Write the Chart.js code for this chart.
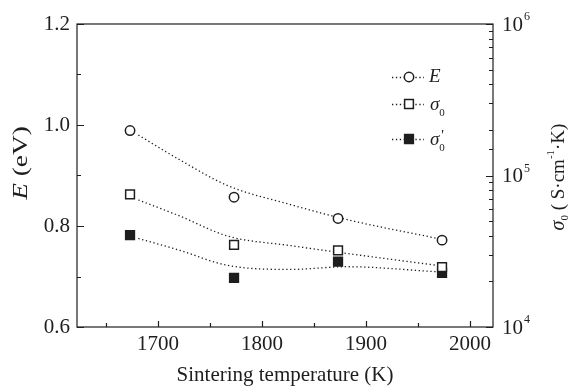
<!DOCTYPE html>
<html>
<head>
<meta charset="utf-8">
<script src="https://cdn.jsdelivr.net/npm/chart.js@4.4.0/dist/chart.umd.min.js"></script>
<style>
  html, body { margin: 0; padding: 0; background: #fff; }
  #grafico { display: block; }
</style>
</head>
<body>
<canvas id="grafico" width="568" height="386"></canvas>
<script>
// Temperaturas de sinterizado (K)
const temperaturas = [1673, 1773, 1873, 1973];
// Energía de activación E (eV)
const energia = [0.989, 0.857, 0.815, 0.772];
// σ0 y σ0' (S·cm-1·K)
const sigma0 = [75100, 34800, 32000, 24800];
const sigma0Prima = [40400, 21100, 27000, 22800];

// Curvas de ajuste punteadas
const ajusteT = [1681, 1720, 1767, 1828, 1881, 1967];
const ajusteEnergia = [0.980, 0.932, 0.880, 0.842, 0.813, 0.776];
const ajusteSigma0 = [68900, 54300, 39800, 34400, 30600, 25600];
const ajusteSigma0Prima = [38400, 32200, 25500, 24000, 25000, 23200];

// Ticks
const ticksX = [1650, 1700, 1750, 1800, 1850, 1900, 1950, 2000];
const etiquetasX = [1700, 1800, 1900, 2000];
const ticksE = [0.6, 0.7, 0.8, 0.9, 1.0, 1.1, 1.2];
const etiquetasE = [0.6, 0.8, 1.0, 1.2];
const exponentesSigma = [4, 5, 6];

const SERIF = "'Liberation Serif', 'Times New Roman', serif";
const TINTA = "#1e1e1e";

const puntos = (xs, ys) => xs.map((x, i) => ({ x: x, y: ys[i] }));

// Dibuja texto compuesto por partes (cursiva, subíndice, superíndice)
function textoCompuesto(ctx, partes, x, y) {
  let ancho = 0;
  partes.forEach((p) => {
    ctx.font = `${p.italic ? "italic " : ""}${p.size}px ${SERIF}`;
    p.w = ctx.measureText(p.t).width + (p.extra || 0);
    ancho += p.w;
  });
  let cx = x - ancho / 2;
  partes.forEach((p) => {
    ctx.font = `${p.italic ? "italic " : ""}${p.size}px ${SERIF}`;
    ctx.fillText(p.t, cx, y + (p.dy || 0));
    cx += p.w;
  });
}

const pluginEjes = {
  id: "pluginEjes",
  afterDraw(chart) {
    const ctx = chart.ctx;
    const area = chart.chartArea;
    const sx = chart.scales.x;
    const sy = chart.scales.y;
    const sy2 = chart.scales.y2;
    ctx.save();
    ctx.strokeStyle = TINTA;
    ctx.fillStyle = TINTA;
    ctx.lineWidth = 1.2;

    // Marco
    ctx.strokeRect(area.left, area.top, area.right - area.left, area.bottom - area.top);

    // Ticks hacia adentro
    ctx.beginPath();
    ticksX.forEach((v) => {
      const px = Math.round(sx.getPixelForValue(v)) + 0.5;
      const largo = etiquetasX.includes(v) ? 6 : 4;
      ctx.moveTo(px, area.bottom);
      ctx.lineTo(px, area.bottom - largo);
    });
    ticksE.forEach((v) => {
      const py = Math.round(sy.getPixelForValue(v)) + 0.5;
      const largo = etiquetasE.some((e) => Math.abs(e - v) < 1e-9) ? 7 : 4;
      ctx.moveTo(area.left, py);
      ctx.lineTo(area.left + largo, py);
    });
    sy2.ticks.forEach((t) => {
      const py = Math.round(sy2.getPixelForValue(t.value)) + 0.5;
      const lg = Math.log10(t.value);
      const largo = Math.abs(lg - Math.round(lg)) < 1e-9 ? 7 : 4;
      ctx.moveTo(area.right, py);
      ctx.lineTo(area.right - largo, py);
    });
    ctx.stroke();

    // Etiquetas del eje derecho 10^n
    ctx.textBaseline = "middle";
    ctx.textAlign = "left";
    exponentesSigma.forEach((n) => {
      const py = sy2.getPixelForValue(Math.pow(10, n));
      ctx.font = `21px ${SERIF}`;
      ctx.fillText("10", area.right + 9, py + 1);
      const w = ctx.measureText("10").width;
      ctx.font = `12px ${SERIF}`;
      ctx.fillText(String(n), area.right + 10 + w, py - 7);
    });

    // Título eje izquierdo: E (eV)
    ctx.save();
    ctx.translate(21, 163);
    ctx.rotate(-Math.PI / 2);
    ctx.scale(1.3, 1);
    textoCompuesto(ctx, [
      { t: "E", italic: true, size: 21 },
      { t: " (eV)", size: 21 },
    ], 0, 0);
    ctx.restore();

    // Título eje derecho: σ0 ( S·cm-1·K)
    ctx.save();
    ctx.translate(559, 177);
    ctx.rotate(-Math.PI / 2);
    textoCompuesto(ctx, [
      { t: "σ", italic: true, size: 20 },
      { t: "0", size: 11, dy: 6 },
      { t: " ( S·cm", size: 19 },
      { t: "-1", size: 11, dy: -8 },
      { t: "·K)", size: 19 },
    ], 0, 0);
    ctx.restore();

    // Leyenda
    const filas = [
      { y: 77, estilo: "circle", relleno: "#fff" },
      { y: 104, estilo: "rect", relleno: "#fff" },
      { y: 139, estilo: "rect", relleno: TINTA },
    ];
    filas.forEach((f, i) => {
      ctx.save();
      ctx.setLineDash([1.3, 2.6]);
      ctx.lineWidth = 1.3;
      ctx.beginPath();
      ctx.moveTo(392, f.y + 0.5);
      ctx.lineTo(424, f.y + 0.5);
      ctx.stroke();
      ctx.restore();
      ctx.save();
      ctx.fillStyle = f.relleno;
      ctx.lineWidth = 1.5;
      Chart.helpers.drawPoint(ctx, {
        pointStyle: f.estilo,
        radius: f.estilo === "circle" ? 4.7 : 6.2,
        borderWidth: 1.5,
      }, 409, f.y);
      ctx.restore();

      ctx.textAlign = "left";
      ctx.textBaseline = "middle";
      ctx.font = `italic 19px ${SERIF}`;
      if (i === 0) {
        ctx.fillText("E", 429, f.y);
      } else {
        ctx.fillText("σ", 430, f.y + 1);
        const w = ctx.measureText("σ").width;
        ctx.font = `11px ${SERIF}`;
        ctx.fillText("0", 430 + w, f.y + 9);
        if (i === 2) {
          ctx.font = `15px ${SERIF}`;
          ctx.fillText("'", 430 + w + 2, f.y - 3);
        }
      }
    });

    ctx.restore();
  },
};

const ctx = document.getElementById("grafico").getContext("2d");
new Chart(ctx, {
  type: "scatter",
  data: {
    datasets: [
      {
        label: "E",
        data: puntos(temperaturas, energia),
        yAxisID: "y",
        pointStyle: "circle",
        pointRadius: 4.7,
        pointBorderWidth: 1.5,
        pointBorderColor: TINTA,
        pointBackgroundColor: "#fff",
        order: 0,
      },
      {
        label: "σ0",
        data: puntos(temperaturas, sigma0),
        yAxisID: "y2",
        pointStyle: "rect",
        pointRadius: 6.2,
        pointBorderWidth: 1.5,
        pointBorderColor: TINTA,
        pointBackgroundColor: "#fff",
        order: 0,
      },
      {
        label: "σ0'",
        data: puntos(temperaturas, sigma0Prima),
        yAxisID: "y2",
        pointStyle: "rect",
        pointRadius: 6.2,
        pointBorderWidth: 1.5,
        pointBorderColor: TINTA,
        pointBackgroundColor: TINTA,
        order: 0,
      },
      {
        label: "ajuste E",
        data: puntos(ajusteT, ajusteEnergia),
        yAxisID: "y",
        showLine: true,
        pointRadius: 0,
        borderColor: TINTA,
        borderWidth: 1.3,
        borderDash: [1.3, 2.6],
        cubicInterpolationMode: "monotone",
        order: 1,
      },
      {
        label: "ajuste σ0",
        data: puntos(ajusteT, ajusteSigma0),
        yAxisID: "y2",
        showLine: true,
        pointRadius: 0,
        borderColor: TINTA,
        borderWidth: 1.3,
        borderDash: [1.3, 2.6],
        cubicInterpolationMode: "monotone",
        order: 1,
      },
      {
        label: "ajuste σ0'",
        data: puntos(ajusteT, ajusteSigma0Prima),
        yAxisID: "y2",
        showLine: true,
        pointRadius: 0,
        borderColor: TINTA,
        borderWidth: 1.3,
        borderDash: [1.3, 2.6],
        cubicInterpolationMode: "monotone",
        order: 1,
      },
    ],
  },
  options: {
    responsive: false,
    animation: false,
    layout: { padding: { top: 24, left: 0, right: 0, bottom: 0 } },
    plugins: {
      legend: { display: false },
      tooltip: { enabled: false },
    },
    scales: {
      x: {
        type: "linear",
        min: 1622,
        max: 2022,
        afterBuildTicks: (s) => { s.ticks = ticksX.map((v) => ({ value: v })); },
        afterFit: (s) => { s.height = 59; },
        grid: { display: false, drawTicks: false },
        border: { display: false },
        ticks: {
          autoSkip: false,
          maxRotation: 0,
          padding: 5,
          color: TINTA,
          font: { family: SERIF, size: 21 },
          callback: (v) => (etiquetasX.includes(v) ? String(v) : ""),
        },
        title: {
          display: true,
          text: "Sintering temperature (K)",
          color: TINTA,
          font: { family: SERIF, size: 21, lineHeight: 1 },
          padding: { top: 0, bottom: 0 },
        },
      },
      y: {
        type: "linear",
        position: "left",
        min: 0.6,
        max: 1.2,
        afterBuildTicks: (s) => { s.ticks = ticksE.map((v) => ({ value: v })); },
        afterFit: (s) => { s.width = 77; },
        grid: { display: false, drawTicks: false },
        border: { display: false },
        ticks: {
          padding: 7,
          color: TINTA,
          font: { family: SERIF, size: 21 },
          callback: (v) => (etiquetasE.some((e) => Math.abs(e - v) < 1e-9) ? v.toFixed(1) : ""),
        },
      },
      y2: {
        type: "logarithmic",
        position: "right",
        min: 1e4,
        max: 1e6,
        afterFit: (s) => { s.width = 75; },
        grid: { display: false, drawTicks: false },
        border: { display: false },
        ticks: { display: false },
      },
    },
  },
  plugins: [pluginEjes],
});
</script>
</body>
</html>
